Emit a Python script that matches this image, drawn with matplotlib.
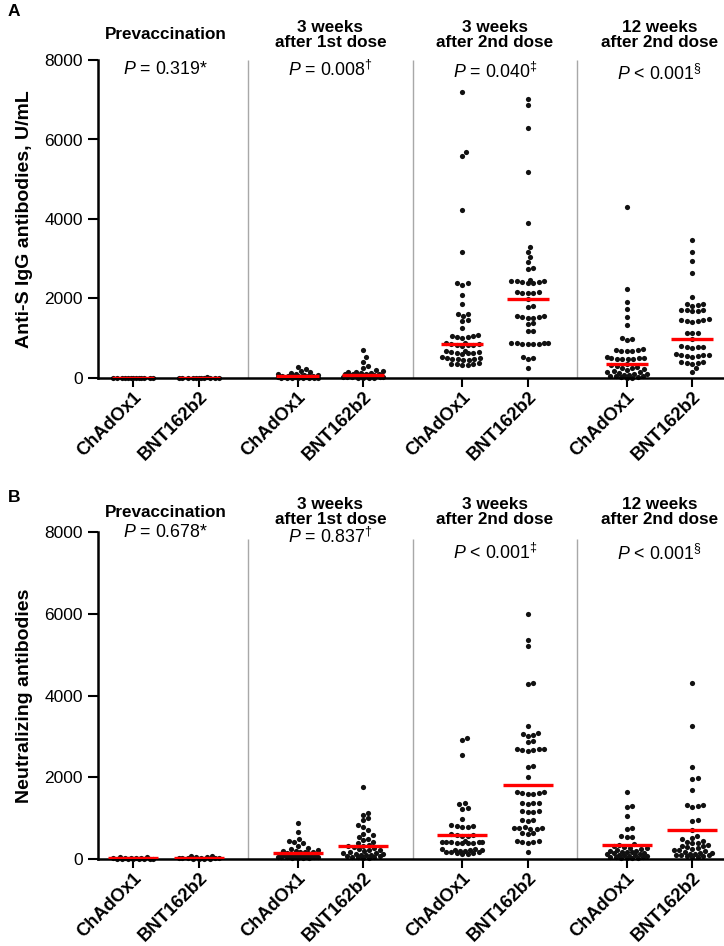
import numpy as np
import matplotlib.pyplot as plt

plt.rcParams['font.family'] = ['Liberation Sans', 'DejaVu Sans']
plt.rcParams['mathtext.fontset'] = 'custom'
plt.rcParams['mathtext.rm'] = 'Liberation Sans'
plt.rcParams['mathtext.it'] = 'Liberation Sans:italic'
plt.rcParams['mathtext.bf'] = 'Liberation Sans:bold'

vaccines = ['ChAdOx1', 'BNT162b2']
timepoints = ['Prevaccination', '3 weeks\nafter 1st dose',
              '3 weeks\nafter 2nd dose', '12 weeks\nafter 2nd dose']

# panel A: anti-S IgG, U/mL
pre_chad_A = [12, 8, 5, 3, 2, 1.2, 1.0, 0.8, 0.6, 0.5, 0.4, 0.4, 0.4]
pre_bnt_A = [14, 9, 6, 4, 2.5, 1.5, 1.0, 0.8, 0.6, 0.5, 0.4, 0.4]
w3d1_chad_A = [280, 220, 170, 140, 120, 100, 90, 80, 70, 60, 55, 50, 45, 42, 40,
               38, 35, 32, 30, 28, 25, 22, 20, 18, 15, 12, 10, 8, 6, 5, 4, 3, 2]
w3d1_bnt_A = [700, 520, 400, 300, 250, 210, 180, 160, 140, 130, 120, 110, 100, 95,
              90, 85, 80, 78, 75, 70, 65, 60, 55, 50, 45, 40, 35, 30, 25, 20, 15,
              12, 10, 8, 5]
w3d2_chad_A = [7200, 5680, 5590, 4230, 3170, 2400, 2380, 2350, 2080, 1870, 1620,
               1600, 1570, 1460, 1440, 1250, 1080, 1060, 1050, 1040, 1020, 1000,
               880, 870, 860, 850, 840, 830, 820, 810, 680, 670, 660, 650, 640,
               630, 620, 610, 520, 510, 500, 490, 480, 470, 460, 450, 370, 360,
               350, 340, 330, 320]
w3d2_bnt_A = [7020, 6870, 6280, 5170, 3910, 3290, 3170, 3040, 2920, 2760, 2740,
              2460, 2450, 2440, 2430, 2420, 2410, 2400, 2390, 2170, 2160, 2150,
              2140, 2130, 1990, 1800, 1780, 1560, 1550, 1540, 1530, 1520, 1510,
              1380, 1360, 1190, 1170, 890, 880, 875, 870, 865, 860, 855, 850,
              520, 500, 480, 250]
w12d2_chad_A = [4310, 2250, 1910, 1730, 1540, 1330, 1000, 980, 960, 720, 710, 700,
                690, 680, 670, 520, 510, 500, 495, 490, 485, 480, 470, 340, 320,
                300, 280, 260, 240, 220, 200, 180, 160, 140, 120, 100, 90, 80, 70,
                60, 50, 40, 30, 20, 10, 5]
w12d2_bnt_A = [3480, 3170, 2940, 2650, 2040, 1870, 1850, 1840, 1820, 1720, 1710,
               1700, 1690, 1680, 1480, 1460, 1450, 1440, 1430, 1420, 1140, 1130,
               1120, 980, 800, 790, 780, 770, 760, 600, 590, 580, 570, 560, 550,
               540, 400, 390, 380, 370, 360, 250, 160]
medians_A = [8, 8, 40, 80, 860, 1990, 360, 980]
pvals_A = [r'$\mathit{P}$ = 0.319*', r'$\mathit{P}$ = 0.008$^{\dagger}$',
           r'$\mathit{P}$ = 0.040$^{\ddagger}$', r'$\mathit{P}$ < 0.001$^{\S}$']

# panel B: neutralizing antibodies
pre_chad_B = [60, 40, 30, 25, 20, 18, 15, 12, 10, 10, 8, 8, 6, 5, 5]
pre_bnt_B = [70, 65, 55, 45, 35, 28, 22, 20, 18, 15, 12, 10, 8, 6]
w3d1_chad_B = [880, 650, 500, 450, 420, 380, 320, 280, 250, 220, 200, 190, 180,
               170, 160, 150, 140, 130, 120, 110, 100, 95, 90, 85, 80, 75, 70, 65,
               60, 55, 50, 45, 40, 35, 30, 25, 20]
w3d1_bnt_B = [1750, 1130, 1080, 1000, 950, 820, 780, 700, 620, 580, 540, 500, 460,
              420, 380, 350, 330, 310, 290, 270, 250, 230, 210, 190, 170, 150, 140,
              130, 120, 110, 100, 90, 80, 70, 60, 50, 40, 30, 20]
w3d2_chad_B = [2950, 2900, 2550, 1360, 1340, 1250, 1230, 990, 820, 810, 800, 790,
               780, 600, 590, 580, 570, 560, 430, 425, 420, 415, 410, 405, 400,
               395, 390, 385, 250, 240, 230, 220, 210, 200, 190, 180, 170, 160,
               150, 140, 130, 120]
w3d2_bnt_B = [5990, 5350, 5200, 4300, 4290, 3250, 3080, 3060, 3040, 3020, 2880,
              2860, 2700, 2690, 2680, 2670, 2660, 2650, 2280, 2260, 2000, 1640,
              1630, 1620, 1610, 1600, 1590, 1380, 1370, 1360, 1350, 1180, 1170,
              1160, 1150, 960, 950, 940, 780, 770, 760, 750, 740, 730, 640, 630,
              620, 440, 430, 420, 410, 400, 160]
w12d2_chad_B = [1650, 1300, 1260, 1040, 760, 740, 560, 550, 540, 360, 340, 320,
                300, 280, 260, 240, 220, 200, 190, 180, 170, 160, 150, 140, 130,
                120, 110, 100, 90, 80, 70, 60, 50, 40, 30, 25, 20, 15]
w12d2_bnt_B = [4300, 3250, 2240, 1990, 1960, 1690, 1330, 1310, 1290, 1270, 960,
               940, 700, 560, 520, 480, 450, 420, 400, 380, 350, 330, 310, 290,
               270, 250, 230, 210, 190, 170, 150, 140, 130, 120, 110, 100, 90, 80,
               70, 60, 50]
medians_B = [25, 30, 150, 330, 590, 1800, 350, 700]
pvals_B = [r'$\mathit{P}$ = 0.678*', r'$\mathit{P}$ = 0.837$^{\dagger}$',
           r'$\mathit{P}$ < 0.001$^{\ddagger}$', r'$\mathit{P}$ < 0.001$^{\S}$']

groups_A = [pre_chad_A, pre_bnt_A, w3d1_chad_A, w3d1_bnt_A,
            w3d2_chad_A, w3d2_bnt_A, w12d2_chad_A, w12d2_bnt_A]
groups_B = [pre_chad_B, pre_bnt_B, w3d1_chad_B, w3d1_bnt_B,
            w3d2_chad_B, w3d2_bnt_B, w12d2_chad_B, w12d2_bnt_B]

positions = np.array([0, 1, 2.5, 3.5, 5, 6, 7.5, 8.5])
XLIM = (-0.532, 8.98)
YMAX = 8000


def swarm(values, ppu_y, diam=5.2, cap=20):
    # simple beeswarm in pixel space, returns x offsets in pixels
    vals = np.asarray(values, float)
    ys = vals * ppu_y
    steps = np.arange(0.5, cap + 0.01, 0.5)
    cands = np.concatenate([[0], np.column_stack([steps, -steps]).ravel()])
    px, py = [], []
    xs = np.zeros(len(vals))
    for i in np.argsort(vals):
        if px:
            d = np.hypot(cands[:, None] - np.array(px)[None, :],
                         ys[i] - np.array(py)[None, :]).min(axis=1)
            ok = np.where(d >= diam)[0]
            j = ok[0] if len(ok) else int(np.argmax(d))
        else:
            j = 0
        xs[i] = cands[j]
        px.append(cands[j])
        py.append(ys[i])
    return xs


def draw_panel(ax, groups, medians, pvals, ylabel, head_y, p_y, hw, div_top):
    ax.set_xlim(*XLIM)
    ax.set_ylim(0, YMAX)
    fig = ax.figure
    bb = ax.get_position()
    w_px = bb.width * fig.get_figwidth() * fig.dpi
    h_px = bb.height * fig.get_figheight() * fig.dpi
    ppu_x = w_px / (XLIM[1] - XLIM[0])
    ppu_y = h_px / YMAX

    for pos, vals in zip(positions, groups):
        off = swarm(vals, ppu_y) / ppu_x
        ax.scatter(pos + off, vals, s=14, color='#111111', linewidths=0,
                   zorder=2, clip_on=False)
    ax.hlines(medians, positions - hw, positions + hw, color='#ff0000',
              lw=2.4, zorder=4)
    ax.vlines([1.75, 4.25, 6.75], 0, div_top, color='#a8a8a8', lw=1, zorder=1)

    xt = ax.get_xaxis_transform()
    for g in range(4):
        c = positions[2 * g:2 * g + 2].mean()
        ax.text(c, head_y, timepoints[g], transform=xt, ha='center', va='center',
                fontsize=12.3, fontweight='bold', linespacing=1.0)
        ax.text(c, p_y[g], pvals[g], transform=xt, ha='center', va='center',
                fontsize=12.8)

    for s in ['top', 'right']:
        ax.spines[s].set_visible(False)
    ax.spines['left'].set_bounds(0, YMAX)
    ax.spines['left'].set_linewidth(1.8)
    ax.spines['bottom'].set_linewidth(1.8)
    ax.set_yticks(np.arange(0, YMAX + 1, 2000))
    ax.tick_params(axis='y', length=7, width=1.5, labelsize=12.5, pad=4)
    ax.tick_params(axis='x', length=6.5, width=1.5, pad=1)
    ax.set_xticks(positions, vaccines * 4, rotation=45, ha='right', va='top',
                  rotation_mode='anchor', fontsize=13.2, fontweight='bold')
    ax.set_ylabel(ylabel, fontsize=14, fontweight='bold', va='center')
    ax.yaxis.set_label_coords(-0.118, 0.5)


fig = plt.figure(figsize=(7.24, 9.46), dpi=100)
axA = fig.add_axes([98 / 724, 1 - 378 / 946, 1 - 98 / 724, 318 / 946])
axB = fig.add_axes([98 / 724, 1 - 859 / 946, 1 - 98 / 724, 327 / 946])

draw_panel(axA, groups_A, medians_A, pvals_A, 'Anti-S IgG antibodies, U/mL',
           1.080, [0.969, 0.969, 0.962, 0.956], 0.32, 8000)
draw_panel(axB, groups_B, medians_B, pvals_B, 'Neutralizing antibodies',
           1.060, [0.997, 0.984, 0.936, 0.934], 0.38, 7830)

fig.text(0.011, 1 - 12 / 946, 'A', fontsize=12.5, fontweight='bold', va='center')
fig.text(0.011, 1 - 498 / 946, 'B', fontsize=12.5, fontweight='bold', va='center')

fig.savefig('out.png', dpi=100)
